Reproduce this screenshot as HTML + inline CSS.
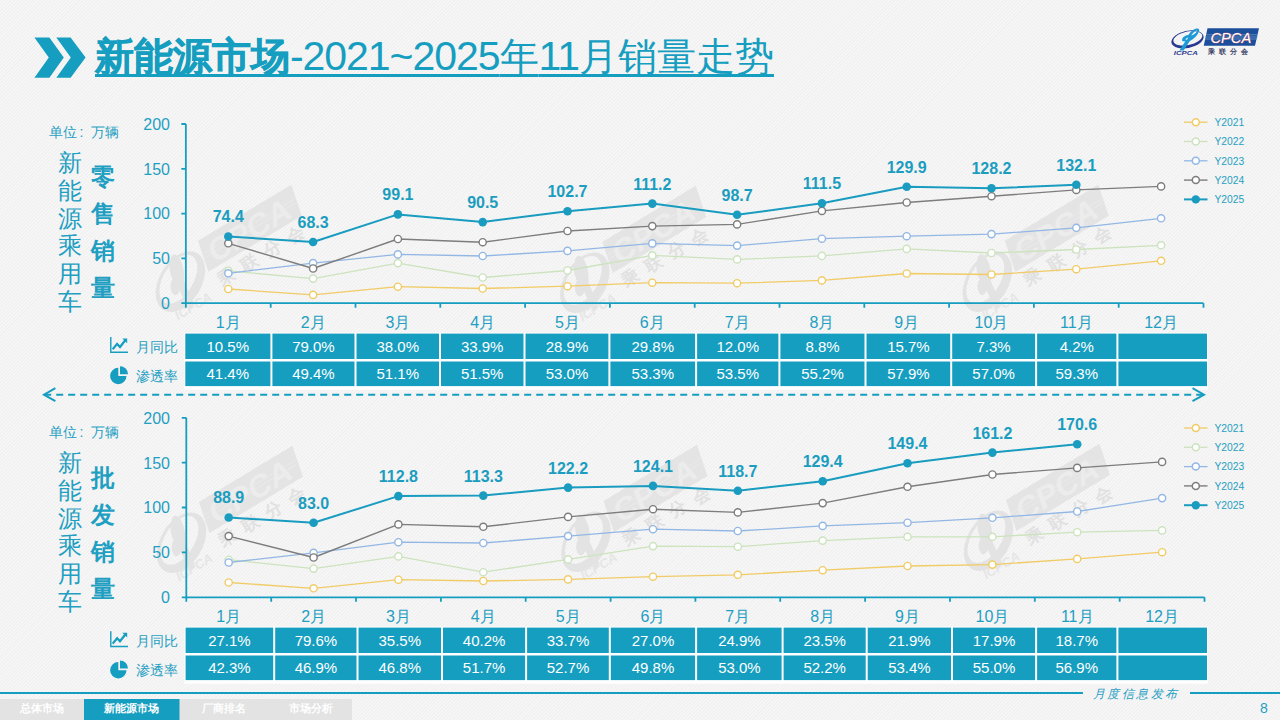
<!DOCTYPE html><html><head><meta charset="utf-8"><style>
html,body{margin:0;padding:0}body{width:1280px;height:720px;overflow:hidden;position:relative;background:#f2f2f2;font-family:"Liberation Sans",sans-serif}
svg{position:absolute;left:0;top:0}
.yl{font-size:16px;fill:#1f9fc2}.xl{font-size:16px;fill:#1f9fc2}.dl{font-size:16px;font-weight:bold;fill:#1b9dc0}.lg{font-size:10.3px;fill:#1f9fc2}.tc{font-size:15px;fill:#fff}
.lab{position:absolute;color:#1f9fc2;white-space:nowrap}
</style></head><body>
<svg width="1280" height="720" viewBox="0 0 1280 720">
<defs><pattern id="st" width="2.55" height="10" patternUnits="userSpaceOnUse" patternTransform="rotate(45)"><rect width="2.55" height="10" fill="#f8f8f8"/><rect width="1.1" height="10" fill="#eeeeee"/></pattern></defs>
<rect width="1280" height="720" fill="url(#st)"/>
<g transform="translate(1160 20)" opacity="1"><path fill-rule="evenodd" fill="#2a3990" d="M12 19.4a15.5 8.2 -12 1 0 31 0a15.5 8.2 -12 1 0 -31 0Z M14.2 18.3a13.6 6.2 -12 1 0 27.2 0a13.6 6.2 -12 1 0 -27.2 0Z"/><path fill="#1e9ad6" d="M36.5 8.6c2.2 -0.8 3.3 0.8 2.4 3.2c-1.4 3.6 -5 7.2 -9 9.2l-6.3 9.5h-4.2l6 -9.2c-2.4 0.4 -4 -0.4 -3.2 -2.4c0.9 -2.2 3.6 -3.6 6.2 -3.8c2.2 -3.6 5 -5.8 8.1 -6.5Zm0.2 1.8c-2 0.6 -4 2.6 -5.6 5.2c2.4 -0.8 4.6 -2.4 5.8 -4.2c0.3 -0.5 0.2 -1 -0.2 -1Zm-8.6 7.2c-1.2 0.3 -2.2 1 -2.4 1.6c-0.2 0.6 0.6 0.7 1.5 0.3Z"/><text x="13.8" y="34.6" font-size="6" font-weight="bold" font-style="italic" fill="#2a3990" textLength="24" lengthAdjust="spacingAndGlyphs">ICPCA</text><path fill="#1b4f9c" d="M47.5 8.25H99L95 25.75H43.75Z"/><path stroke="#6fa0d0" stroke-width="0.7" d="M46 14.75H98M45.4 17H97.5M45 19H97"/><text x="50.5" y="23" font-size="15" font-style="italic" fill="#ffffff" stroke="#e05050" stroke-width="0.5" paint-order="stroke" textLength="40.7" lengthAdjust="spacingAndGlyphs">CPCA</text><text x="47.5" y="34.4" font-size="7.2" font-weight="bold" fill="#3b3f66" letter-spacing="4.3">乘联分会</text></g>
<g transform="translate(197.9 240.8) rotate(-31)"><path fill="#e4e4e4" d="M0 0H109L102 32H-7Z"/><path stroke="#e9e9e9" stroke-width="1" d="M-3 14H104M-4 18H103"/><text x="3" y="28" font-size="31" font-weight="bold" font-style="italic" fill="#ececec" textLength="92" lengthAdjust="spacingAndGlyphs">CPCA</text><text x="-3" y="51" font-size="17" font-weight="bold" fill="#e1e1e1" letter-spacing="10">乘联分会</text><g transform="translate(-36 26) rotate(-28)"><path fill-rule="evenodd" fill="#e3e3e3" d="M-33 0a33 21 0 1 0 66 0a33 21 0 1 0 -66 0Z M-26 -3a27 15 0 1 0 54 0a27 15 0 1 0 -54 0Z"/><path fill="#e3e3e3" d="M14 -20c5 -2 8 1 6 6c-3 7 -10 13 -18 17l-14 20h-9l13 -19c-5 1 -8 -1 -6 -5c2 -4 7 -7 12 -7c4 -6 10 -11 16 -12Z"/></g><text x="-58" y="58" font-size="13" font-weight="bold" font-style="italic" fill="#e6e6e6">ICPCA</text></g>
<g transform="translate(602.3 242) rotate(-31)"><path fill="#e4e4e4" d="M0 0H109L102 32H-7Z"/><path stroke="#e9e9e9" stroke-width="1" d="M-3 14H104M-4 18H103"/><text x="3" y="28" font-size="31" font-weight="bold" font-style="italic" fill="#ececec" textLength="92" lengthAdjust="spacingAndGlyphs">CPCA</text><text x="-3" y="51" font-size="17" font-weight="bold" fill="#e1e1e1" letter-spacing="10">乘联分会</text><g transform="translate(-36 26) rotate(-28)"><path fill-rule="evenodd" fill="#e3e3e3" d="M-33 0a33 21 0 1 0 66 0a33 21 0 1 0 -66 0Z M-26 -3a27 15 0 1 0 54 0a27 15 0 1 0 -54 0Z"/><path fill="#e3e3e3" d="M14 -20c5 -2 8 1 6 6c-3 7 -10 13 -18 17l-14 20h-9l13 -19c-5 1 -8 -1 -6 -5c2 -4 7 -7 12 -7c4 -6 10 -11 16 -12Z"/></g><text x="-58" y="58" font-size="13" font-weight="bold" font-style="italic" fill="#e6e6e6">ICPCA</text></g>
<g transform="translate(1004.8 240.8) rotate(-31)"><path fill="#e4e4e4" d="M0 0H109L102 32H-7Z"/><path stroke="#e9e9e9" stroke-width="1" d="M-3 14H104M-4 18H103"/><text x="3" y="28" font-size="31" font-weight="bold" font-style="italic" fill="#ececec" textLength="92" lengthAdjust="spacingAndGlyphs">CPCA</text><text x="-3" y="51" font-size="17" font-weight="bold" fill="#e1e1e1" letter-spacing="10">乘联分会</text><g transform="translate(-36 26) rotate(-28)"><path fill-rule="evenodd" fill="#e3e3e3" d="M-33 0a33 21 0 1 0 66 0a33 21 0 1 0 -66 0Z M-26 -3a27 15 0 1 0 54 0a27 15 0 1 0 -54 0Z"/><path fill="#e3e3e3" d="M14 -20c5 -2 8 1 6 6c-3 7 -10 13 -18 17l-14 20h-9l13 -19c-5 1 -8 -1 -6 -5c2 -4 7 -7 12 -7c4 -6 10 -11 16 -12Z"/></g><text x="-58" y="58" font-size="13" font-weight="bold" font-style="italic" fill="#e6e6e6">ICPCA</text></g>
<g transform="translate(199 501.9) rotate(-31)"><path fill="#e4e4e4" d="M0 0H109L102 32H-7Z"/><path stroke="#e9e9e9" stroke-width="1" d="M-3 14H104M-4 18H103"/><text x="3" y="28" font-size="31" font-weight="bold" font-style="italic" fill="#ececec" textLength="92" lengthAdjust="spacingAndGlyphs">CPCA</text><text x="-3" y="51" font-size="17" font-weight="bold" fill="#e1e1e1" letter-spacing="10">乘联分会</text><g transform="translate(-36 26) rotate(-28)"><path fill-rule="evenodd" fill="#e3e3e3" d="M-33 0a33 21 0 1 0 66 0a33 21 0 1 0 -66 0Z M-26 -3a27 15 0 1 0 54 0a27 15 0 1 0 -54 0Z"/><path fill="#e3e3e3" d="M14 -20c5 -2 8 1 6 6c-3 7 -10 13 -18 17l-14 20h-9l13 -19c-5 1 -8 -1 -6 -5c2 -4 7 -7 12 -7c4 -6 10 -11 16 -12Z"/></g><text x="-58" y="58" font-size="13" font-weight="bold" font-style="italic" fill="#e6e6e6">ICPCA</text></g>
<g transform="translate(603.5 501) rotate(-31)"><path fill="#e4e4e4" d="M0 0H109L102 32H-7Z"/><path stroke="#e9e9e9" stroke-width="1" d="M-3 14H104M-4 18H103"/><text x="3" y="28" font-size="31" font-weight="bold" font-style="italic" fill="#ececec" textLength="92" lengthAdjust="spacingAndGlyphs">CPCA</text><text x="-3" y="51" font-size="17" font-weight="bold" fill="#e1e1e1" letter-spacing="10">乘联分会</text><g transform="translate(-36 26) rotate(-28)"><path fill-rule="evenodd" fill="#e3e3e3" d="M-33 0a33 21 0 1 0 66 0a33 21 0 1 0 -66 0Z M-26 -3a27 15 0 1 0 54 0a27 15 0 1 0 -54 0Z"/><path fill="#e3e3e3" d="M14 -20c5 -2 8 1 6 6c-3 7 -10 13 -18 17l-14 20h-9l13 -19c-5 1 -8 -1 -6 -5c2 -4 7 -7 12 -7c4 -6 10 -11 16 -12Z"/></g><text x="-58" y="58" font-size="13" font-weight="bold" font-style="italic" fill="#e6e6e6">ICPCA</text></g>
<g transform="translate(1006 500) rotate(-31)"><path fill="#e4e4e4" d="M0 0H109L102 32H-7Z"/><path stroke="#e9e9e9" stroke-width="1" d="M-3 14H104M-4 18H103"/><text x="3" y="28" font-size="31" font-weight="bold" font-style="italic" fill="#ececec" textLength="92" lengthAdjust="spacingAndGlyphs">CPCA</text><text x="-3" y="51" font-size="17" font-weight="bold" fill="#e1e1e1" letter-spacing="10">乘联分会</text><g transform="translate(-36 26) rotate(-28)"><path fill-rule="evenodd" fill="#e3e3e3" d="M-33 0a33 21 0 1 0 66 0a33 21 0 1 0 -66 0Z M-26 -3a27 15 0 1 0 54 0a27 15 0 1 0 -54 0Z"/><path fill="#e3e3e3" d="M14 -20c5 -2 8 1 6 6c-3 7 -10 13 -18 17l-14 20h-9l13 -19c-5 1 -8 -1 -6 -5c2 -4 7 -7 12 -7c4 -6 10 -11 16 -12Z"/></g><text x="-58" y="58" font-size="13" font-weight="bold" font-style="italic" fill="#e6e6e6">ICPCA</text></g>
<path d="M34.4 37.5H49.4L63.8 57.6L49.4 77.8H34.4L48.8 57.6Z" fill="#169ec0"/>
<path d="M56.3 37.5H70.6L85.6 57.6L70.6 77.8H56.3L70.8 57.6Z" fill="#169ec0"/>
<path d="M185.85 124.0V307.7M181.35 303.2H1203.4999999999998" stroke="#169ec0" stroke-width="1.8" fill="none"/>
<path d="M181.35 124.0H185.85M181.35 168.8H185.85M181.35 213.6H185.85M181.35 258.4H185.85M270.7 303.2V307.7M355.5 303.2V307.7M440.3 303.2V307.7M525.1 303.2V307.7M609.9 303.2V307.7M694.7 303.2V307.7M779.5 303.2V307.7M864.3 303.2V307.7M949.1 303.2V307.7M1033.9 303.2V307.7M1118.7 303.2V307.7M1203.5 303.2V307.7" stroke="#169ec0" stroke-width="1.8" fill="none"/>
<text x="170" y="129.8" text-anchor="end" class="yl">200</text>
<text x="170" y="174.6" text-anchor="end" class="yl">150</text>
<text x="170" y="219.4" text-anchor="end" class="yl">100</text>
<text x="170" y="264.2" text-anchor="end" class="yl">50</text>
<text x="170" y="309.0" text-anchor="end" class="yl">0</text>
<text x="228.3" y="328.0" text-anchor="middle" class="xl">1月</text>
<text x="313.1" y="328.0" text-anchor="middle" class="xl">2月</text>
<text x="397.9" y="328.0" text-anchor="middle" class="xl">3月</text>
<text x="482.7" y="328.0" text-anchor="middle" class="xl">4月</text>
<text x="567.5" y="328.0" text-anchor="middle" class="xl">5月</text>
<text x="652.3" y="328.0" text-anchor="middle" class="xl">6月</text>
<text x="737.1" y="328.0" text-anchor="middle" class="xl">7月</text>
<text x="821.9" y="328.0" text-anchor="middle" class="xl">8月</text>
<text x="906.7" y="328.0" text-anchor="middle" class="xl">9月</text>
<text x="991.5" y="328.0" text-anchor="middle" class="xl">10月</text>
<text x="1076.3" y="328.0" text-anchor="middle" class="xl">11月</text>
<text x="1161.1" y="328.0" text-anchor="middle" class="xl">12月</text>
<path d="M228.3 289.0 L313.1 294.9 L397.9 286.7 L482.7 288.5 L567.5 286.2 L652.3 282.7 L737.1 283.2 L821.9 280.4 L906.7 273.5 L991.5 274.5 L1076.3 269.2 L1161.1 260.8" stroke="#f0cb66" stroke-width="1.3" fill="none" stroke-linejoin="round"/>
<circle cx="228.3" cy="289.0" r="3.6" fill="#fff" stroke="#f0cb66" stroke-width="1.4"/>
<circle cx="313.1" cy="294.9" r="3.6" fill="#fff" stroke="#f0cb66" stroke-width="1.4"/>
<circle cx="397.9" cy="286.7" r="3.6" fill="#fff" stroke="#f0cb66" stroke-width="1.4"/>
<circle cx="482.7" cy="288.5" r="3.6" fill="#fff" stroke="#f0cb66" stroke-width="1.4"/>
<circle cx="567.5" cy="286.2" r="3.6" fill="#fff" stroke="#f0cb66" stroke-width="1.4"/>
<circle cx="652.3" cy="282.7" r="3.6" fill="#fff" stroke="#f0cb66" stroke-width="1.4"/>
<circle cx="737.1" cy="283.2" r="3.6" fill="#fff" stroke="#f0cb66" stroke-width="1.4"/>
<circle cx="821.9" cy="280.4" r="3.6" fill="#fff" stroke="#f0cb66" stroke-width="1.4"/>
<circle cx="906.7" cy="273.5" r="3.6" fill="#fff" stroke="#f0cb66" stroke-width="1.4"/>
<circle cx="991.5" cy="274.5" r="3.6" fill="#fff" stroke="#f0cb66" stroke-width="1.4"/>
<circle cx="1076.3" cy="269.2" r="3.6" fill="#fff" stroke="#f0cb66" stroke-width="1.4"/>
<circle cx="1161.1" cy="260.8" r="3.6" fill="#fff" stroke="#f0cb66" stroke-width="1.4"/>
<path d="M228.3 270.9 L313.1 278.6 L397.9 263.1 L482.7 277.5 L567.5 270.5 L652.3 255.4 L737.1 259.4 L821.9 255.9 L906.7 248.9 L991.5 253.0 L1076.3 249.5 L1161.1 245.3" stroke="#cce3be" stroke-width="1.3" fill="none" stroke-linejoin="round"/>
<circle cx="228.3" cy="270.9" r="3.6" fill="#fff" stroke="#cce3be" stroke-width="1.4"/>
<circle cx="313.1" cy="278.6" r="3.6" fill="#fff" stroke="#cce3be" stroke-width="1.4"/>
<circle cx="397.9" cy="263.1" r="3.6" fill="#fff" stroke="#cce3be" stroke-width="1.4"/>
<circle cx="482.7" cy="277.5" r="3.6" fill="#fff" stroke="#cce3be" stroke-width="1.4"/>
<circle cx="567.5" cy="270.5" r="3.6" fill="#fff" stroke="#cce3be" stroke-width="1.4"/>
<circle cx="652.3" cy="255.4" r="3.6" fill="#fff" stroke="#cce3be" stroke-width="1.4"/>
<circle cx="737.1" cy="259.4" r="3.6" fill="#fff" stroke="#cce3be" stroke-width="1.4"/>
<circle cx="821.9" cy="255.9" r="3.6" fill="#fff" stroke="#cce3be" stroke-width="1.4"/>
<circle cx="906.7" cy="248.9" r="3.6" fill="#fff" stroke="#cce3be" stroke-width="1.4"/>
<circle cx="991.5" cy="253.0" r="3.6" fill="#fff" stroke="#cce3be" stroke-width="1.4"/>
<circle cx="1076.3" cy="249.5" r="3.6" fill="#fff" stroke="#cce3be" stroke-width="1.4"/>
<circle cx="1161.1" cy="245.3" r="3.6" fill="#fff" stroke="#cce3be" stroke-width="1.4"/>
<path d="M228.3 273.3 L313.1 263.1 L397.9 254.4 L482.7 256.0 L567.5 250.9 L652.3 243.4 L737.1 245.6 L821.9 238.7 L906.7 236.2 L991.5 234.1 L1076.3 227.8 L1161.1 218.3" stroke="#93b7e4" stroke-width="1.3" fill="none" stroke-linejoin="round"/>
<circle cx="228.3" cy="273.3" r="3.6" fill="#fff" stroke="#93b7e4" stroke-width="1.4"/>
<circle cx="313.1" cy="263.1" r="3.6" fill="#fff" stroke="#93b7e4" stroke-width="1.4"/>
<circle cx="397.9" cy="254.4" r="3.6" fill="#fff" stroke="#93b7e4" stroke-width="1.4"/>
<circle cx="482.7" cy="256.0" r="3.6" fill="#fff" stroke="#93b7e4" stroke-width="1.4"/>
<circle cx="567.5" cy="250.9" r="3.6" fill="#fff" stroke="#93b7e4" stroke-width="1.4"/>
<circle cx="652.3" cy="243.4" r="3.6" fill="#fff" stroke="#93b7e4" stroke-width="1.4"/>
<circle cx="737.1" cy="245.6" r="3.6" fill="#fff" stroke="#93b7e4" stroke-width="1.4"/>
<circle cx="821.9" cy="238.7" r="3.6" fill="#fff" stroke="#93b7e4" stroke-width="1.4"/>
<circle cx="906.7" cy="236.2" r="3.6" fill="#fff" stroke="#93b7e4" stroke-width="1.4"/>
<circle cx="991.5" cy="234.1" r="3.6" fill="#fff" stroke="#93b7e4" stroke-width="1.4"/>
<circle cx="1076.3" cy="227.8" r="3.6" fill="#fff" stroke="#93b7e4" stroke-width="1.4"/>
<circle cx="1161.1" cy="218.3" r="3.6" fill="#fff" stroke="#93b7e4" stroke-width="1.4"/>
<path d="M228.3 243.3 L313.1 268.5 L397.9 239.0 L482.7 242.2 L567.5 231.0 L652.3 226.1 L737.1 224.4 L821.9 210.9 L906.7 202.5 L991.5 196.2 L1076.3 189.9 L1161.1 186.4" stroke="#7d7d7d" stroke-width="1.4" fill="none" stroke-linejoin="round"/>
<circle cx="228.3" cy="243.3" r="3.6" fill="#fff" stroke="#7d7d7d" stroke-width="1.4"/>
<circle cx="313.1" cy="268.5" r="3.6" fill="#fff" stroke="#7d7d7d" stroke-width="1.4"/>
<circle cx="397.9" cy="239.0" r="3.6" fill="#fff" stroke="#7d7d7d" stroke-width="1.4"/>
<circle cx="482.7" cy="242.2" r="3.6" fill="#fff" stroke="#7d7d7d" stroke-width="1.4"/>
<circle cx="567.5" cy="231.0" r="3.6" fill="#fff" stroke="#7d7d7d" stroke-width="1.4"/>
<circle cx="652.3" cy="226.1" r="3.6" fill="#fff" stroke="#7d7d7d" stroke-width="1.4"/>
<circle cx="737.1" cy="224.4" r="3.6" fill="#fff" stroke="#7d7d7d" stroke-width="1.4"/>
<circle cx="821.9" cy="210.9" r="3.6" fill="#fff" stroke="#7d7d7d" stroke-width="1.4"/>
<circle cx="906.7" cy="202.5" r="3.6" fill="#fff" stroke="#7d7d7d" stroke-width="1.4"/>
<circle cx="991.5" cy="196.2" r="3.6" fill="#fff" stroke="#7d7d7d" stroke-width="1.4"/>
<circle cx="1076.3" cy="189.9" r="3.6" fill="#fff" stroke="#7d7d7d" stroke-width="1.4"/>
<circle cx="1161.1" cy="186.4" r="3.6" fill="#fff" stroke="#7d7d7d" stroke-width="1.4"/>
<path d="M228.3 236.5 L313.1 242.0 L397.9 214.4 L482.7 222.1 L567.5 211.2 L652.3 203.6 L737.1 214.8 L821.9 203.3 L906.7 186.8 L991.5 188.3 L1076.3 184.8" stroke="#199cc0" stroke-width="2.0" fill="none" stroke-linejoin="round"/>
<circle cx="228.3" cy="236.5" r="4.3" fill="#199cc0"/>
<circle cx="313.1" cy="242.0" r="4.3" fill="#199cc0"/>
<circle cx="397.9" cy="214.4" r="4.3" fill="#199cc0"/>
<circle cx="482.7" cy="222.1" r="4.3" fill="#199cc0"/>
<circle cx="567.5" cy="211.2" r="4.3" fill="#199cc0"/>
<circle cx="652.3" cy="203.6" r="4.3" fill="#199cc0"/>
<circle cx="737.1" cy="214.8" r="4.3" fill="#199cc0"/>
<circle cx="821.9" cy="203.3" r="4.3" fill="#199cc0"/>
<circle cx="906.7" cy="186.8" r="4.3" fill="#199cc0"/>
<circle cx="991.5" cy="188.3" r="4.3" fill="#199cc0"/>
<circle cx="1076.3" cy="184.8" r="4.3" fill="#199cc0"/>
<text x="228.3" y="222.4" text-anchor="middle" class="dl">74.4</text>
<text x="313.1" y="227.9" text-anchor="middle" class="dl">68.3</text>
<text x="397.9" y="200.3" text-anchor="middle" class="dl">99.1</text>
<text x="482.7" y="208.0" text-anchor="middle" class="dl">90.5</text>
<text x="567.5" y="197.1" text-anchor="middle" class="dl">102.7</text>
<text x="652.3" y="189.5" text-anchor="middle" class="dl">111.2</text>
<text x="737.1" y="200.7" text-anchor="middle" class="dl">98.7</text>
<text x="821.9" y="189.2" text-anchor="middle" class="dl">111.5</text>
<text x="906.7" y="172.7" text-anchor="middle" class="dl">129.9</text>
<text x="991.5" y="174.2" text-anchor="middle" class="dl">128.2</text>
<text x="1076.3" y="170.7" text-anchor="middle" class="dl">132.1</text>
<path d="M1184 122.2H1207.5" stroke="#f0cb66" stroke-width="1.3"/>
<circle cx="1195.8" cy="122.2" r="3.5" fill="#fff" stroke="#f0cb66" stroke-width="1.5"/>
<text x="1214.5" y="125.9" class="lg">Y2021</text>
<path d="M1184 141.5H1207.5" stroke="#cce3be" stroke-width="1.3"/>
<circle cx="1195.8" cy="141.5" r="3.5" fill="#fff" stroke="#cce3be" stroke-width="1.5"/>
<text x="1214.5" y="145.2" class="lg">Y2022</text>
<path d="M1184 160.8H1207.5" stroke="#93b7e4" stroke-width="1.3"/>
<circle cx="1195.8" cy="160.8" r="3.5" fill="#fff" stroke="#93b7e4" stroke-width="1.5"/>
<text x="1214.5" y="164.5" class="lg">Y2023</text>
<path d="M1184 180.1H1207.5" stroke="#7d7d7d" stroke-width="1.4"/>
<circle cx="1195.8" cy="180.1" r="3.5" fill="#fff" stroke="#7d7d7d" stroke-width="1.5"/>
<text x="1214.5" y="183.8" class="lg">Y2024</text>
<path d="M1184 199.4H1207.5" stroke="#199cc0" stroke-width="2.0"/>
<circle cx="1195.8" cy="199.4" r="4.2" fill="#199cc0"/>
<text x="1214.5" y="203.1" class="lg">Y2025</text>
<rect x="184.20000000000002" y="332.70000000000005" width="1023.7" height="57" fill="#fff"/>
<rect x="185.3" y="333.6" width="85.1" height="25.4" fill="#169ec0"/>
<text x="227.8" y="351.7" text-anchor="middle" class="tc">10.5%</text>
<rect x="185.3" y="361.5" width="85.1" height="24.6" fill="#169ec0"/>
<text x="227.8" y="379.2" text-anchor="middle" class="tc">41.4%</text>
<rect x="272.4" y="333.6" width="82.1" height="25.4" fill="#169ec0"/>
<text x="313.4" y="351.7" text-anchor="middle" class="tc">79.0%</text>
<rect x="272.4" y="361.5" width="82.1" height="24.6" fill="#169ec0"/>
<text x="313.4" y="379.2" text-anchor="middle" class="tc">49.4%</text>
<rect x="356.5" y="333.6" width="82.5" height="25.4" fill="#169ec0"/>
<text x="397.8" y="351.7" text-anchor="middle" class="tc">38.0%</text>
<rect x="356.5" y="361.5" width="82.5" height="24.6" fill="#169ec0"/>
<text x="397.8" y="379.2" text-anchor="middle" class="tc">51.1%</text>
<rect x="441.0" y="333.6" width="82.5" height="25.4" fill="#169ec0"/>
<text x="482.2" y="351.7" text-anchor="middle" class="tc">33.9%</text>
<rect x="441.0" y="361.5" width="82.5" height="24.6" fill="#169ec0"/>
<text x="482.2" y="379.2" text-anchor="middle" class="tc">51.5%</text>
<rect x="525.5" y="333.6" width="82.9" height="25.4" fill="#169ec0"/>
<text x="567.0" y="351.7" text-anchor="middle" class="tc">28.9%</text>
<rect x="525.5" y="361.5" width="82.9" height="24.6" fill="#169ec0"/>
<text x="567.0" y="379.2" text-anchor="middle" class="tc">53.0%</text>
<rect x="610.4" y="333.6" width="84.7" height="25.4" fill="#169ec0"/>
<text x="652.8" y="351.7" text-anchor="middle" class="tc">29.8%</text>
<rect x="610.4" y="361.5" width="84.7" height="24.6" fill="#169ec0"/>
<text x="652.8" y="379.2" text-anchor="middle" class="tc">53.3%</text>
<rect x="697.1" y="333.6" width="81.3" height="25.4" fill="#169ec0"/>
<text x="737.8" y="351.7" text-anchor="middle" class="tc">12.0%</text>
<rect x="697.1" y="361.5" width="81.3" height="24.6" fill="#169ec0"/>
<text x="737.8" y="379.2" text-anchor="middle" class="tc">53.5%</text>
<rect x="780.4" y="333.6" width="84.1" height="25.4" fill="#169ec0"/>
<text x="822.5" y="351.7" text-anchor="middle" class="tc">8.8%</text>
<rect x="780.4" y="361.5" width="84.1" height="24.6" fill="#169ec0"/>
<text x="822.5" y="379.2" text-anchor="middle" class="tc">55.2%</text>
<rect x="866.5" y="333.6" width="83.7" height="25.4" fill="#169ec0"/>
<text x="908.4" y="351.7" text-anchor="middle" class="tc">15.7%</text>
<rect x="866.5" y="361.5" width="83.7" height="24.6" fill="#169ec0"/>
<text x="908.4" y="379.2" text-anchor="middle" class="tc">57.9%</text>
<rect x="952.2" y="333.6" width="82.9" height="25.4" fill="#169ec0"/>
<text x="993.6" y="351.7" text-anchor="middle" class="tc">7.3%</text>
<rect x="952.2" y="361.5" width="82.9" height="24.6" fill="#169ec0"/>
<text x="993.6" y="379.2" text-anchor="middle" class="tc">57.0%</text>
<rect x="1037.1" y="333.6" width="79.3" height="25.4" fill="#169ec0"/>
<text x="1076.8" y="351.7" text-anchor="middle" class="tc">4.2%</text>
<rect x="1037.1" y="361.5" width="79.3" height="24.6" fill="#169ec0"/>
<text x="1076.8" y="379.2" text-anchor="middle" class="tc">59.3%</text>
<rect x="1118.4" y="333.6" width="88.6" height="25.4" fill="#169ec0"/>
<rect x="1118.4" y="361.5" width="88.6" height="24.6" fill="#169ec0"/>
<path d="M186.3 417.8V601.8M181.8 597.3H1204.5" stroke="#169ec0" stroke-width="1.8" fill="none"/>
<path d="M181.8 417.8H186.3M181.8 462.7H186.3M181.8 507.5H186.3M181.8 552.4H186.3M271.2 597.3V601.8M356.0 597.3V601.8M440.9 597.3V601.8M525.7 597.3V601.8M610.6 597.3V601.8M695.4 597.3V601.8M780.2 597.3V601.8M865.1 597.3V601.8M950.0 597.3V601.8M1034.8 597.3V601.8M1119.7 597.3V601.8M1204.5 597.3V601.8" stroke="#169ec0" stroke-width="1.8" fill="none"/>
<text x="170" y="423.6" text-anchor="end" class="yl">200</text>
<text x="170" y="468.5" text-anchor="end" class="yl">150</text>
<text x="170" y="513.3" text-anchor="end" class="yl">100</text>
<text x="170" y="558.2" text-anchor="end" class="yl">50</text>
<text x="170" y="603.1" text-anchor="end" class="yl">0</text>
<text x="228.7" y="622.1" text-anchor="middle" class="xl">1月</text>
<text x="313.6" y="622.1" text-anchor="middle" class="xl">2月</text>
<text x="398.4" y="622.1" text-anchor="middle" class="xl">3月</text>
<text x="483.3" y="622.1" text-anchor="middle" class="xl">4月</text>
<text x="568.1" y="622.1" text-anchor="middle" class="xl">5月</text>
<text x="653.0" y="622.1" text-anchor="middle" class="xl">6月</text>
<text x="737.8" y="622.1" text-anchor="middle" class="xl">7月</text>
<text x="822.7" y="622.1" text-anchor="middle" class="xl">8月</text>
<text x="907.5" y="622.1" text-anchor="middle" class="xl">9月</text>
<text x="992.4" y="622.1" text-anchor="middle" class="xl">10月</text>
<text x="1077.2" y="622.1" text-anchor="middle" class="xl">11月</text>
<text x="1162.1" y="622.1" text-anchor="middle" class="xl">12月</text>
<path d="M228.7 582.5 L313.6 588.3 L398.4 579.7 L483.3 581.0 L568.1 579.4 L653.0 576.7 L737.8 574.8 L822.7 570.2 L907.5 566.0 L992.4 564.6 L1077.2 558.9 L1162.1 552.2" stroke="#f0cb66" stroke-width="1.3" fill="none" stroke-linejoin="round"/>
<circle cx="228.7" cy="582.5" r="3.6" fill="#fff" stroke="#f0cb66" stroke-width="1.4"/>
<circle cx="313.6" cy="588.3" r="3.6" fill="#fff" stroke="#f0cb66" stroke-width="1.4"/>
<circle cx="398.4" cy="579.7" r="3.6" fill="#fff" stroke="#f0cb66" stroke-width="1.4"/>
<circle cx="483.3" cy="581.0" r="3.6" fill="#fff" stroke="#f0cb66" stroke-width="1.4"/>
<circle cx="568.1" cy="579.4" r="3.6" fill="#fff" stroke="#f0cb66" stroke-width="1.4"/>
<circle cx="653.0" cy="576.7" r="3.6" fill="#fff" stroke="#f0cb66" stroke-width="1.4"/>
<circle cx="737.8" cy="574.8" r="3.6" fill="#fff" stroke="#f0cb66" stroke-width="1.4"/>
<circle cx="822.7" cy="570.2" r="3.6" fill="#fff" stroke="#f0cb66" stroke-width="1.4"/>
<circle cx="907.5" cy="566.0" r="3.6" fill="#fff" stroke="#f0cb66" stroke-width="1.4"/>
<circle cx="992.4" cy="564.6" r="3.6" fill="#fff" stroke="#f0cb66" stroke-width="1.4"/>
<circle cx="1077.2" cy="558.9" r="3.6" fill="#fff" stroke="#f0cb66" stroke-width="1.4"/>
<circle cx="1162.1" cy="552.2" r="3.6" fill="#fff" stroke="#f0cb66" stroke-width="1.4"/>
<path d="M228.7 559.7 L313.6 568.6 L398.4 556.4 L483.3 572.2 L568.1 559.4 L653.0 546.1 L737.8 546.7 L822.7 540.6 L907.5 536.8 L992.4 536.8 L1077.2 532.2 L1162.1 530.4" stroke="#cce3be" stroke-width="1.3" fill="none" stroke-linejoin="round"/>
<circle cx="228.7" cy="559.7" r="3.6" fill="#fff" stroke="#cce3be" stroke-width="1.4"/>
<circle cx="313.6" cy="568.6" r="3.6" fill="#fff" stroke="#cce3be" stroke-width="1.4"/>
<circle cx="398.4" cy="556.4" r="3.6" fill="#fff" stroke="#cce3be" stroke-width="1.4"/>
<circle cx="483.3" cy="572.2" r="3.6" fill="#fff" stroke="#cce3be" stroke-width="1.4"/>
<circle cx="568.1" cy="559.4" r="3.6" fill="#fff" stroke="#cce3be" stroke-width="1.4"/>
<circle cx="653.0" cy="546.1" r="3.6" fill="#fff" stroke="#cce3be" stroke-width="1.4"/>
<circle cx="737.8" cy="546.7" r="3.6" fill="#fff" stroke="#cce3be" stroke-width="1.4"/>
<circle cx="822.7" cy="540.6" r="3.6" fill="#fff" stroke="#cce3be" stroke-width="1.4"/>
<circle cx="907.5" cy="536.8" r="3.6" fill="#fff" stroke="#cce3be" stroke-width="1.4"/>
<circle cx="992.4" cy="536.8" r="3.6" fill="#fff" stroke="#cce3be" stroke-width="1.4"/>
<circle cx="1077.2" cy="532.2" r="3.6" fill="#fff" stroke="#cce3be" stroke-width="1.4"/>
<circle cx="1162.1" cy="530.4" r="3.6" fill="#fff" stroke="#cce3be" stroke-width="1.4"/>
<path d="M228.7 562.5 L313.6 552.8 L398.4 542.2 L483.3 543.0 L568.1 536.1 L653.0 529.2 L737.8 531.0 L822.7 525.9 L907.5 522.7 L992.4 517.8 L1077.2 511.5 L1162.1 498.1" stroke="#93b7e4" stroke-width="1.3" fill="none" stroke-linejoin="round"/>
<circle cx="228.7" cy="562.5" r="3.6" fill="#fff" stroke="#93b7e4" stroke-width="1.4"/>
<circle cx="313.6" cy="552.8" r="3.6" fill="#fff" stroke="#93b7e4" stroke-width="1.4"/>
<circle cx="398.4" cy="542.2" r="3.6" fill="#fff" stroke="#93b7e4" stroke-width="1.4"/>
<circle cx="483.3" cy="543.0" r="3.6" fill="#fff" stroke="#93b7e4" stroke-width="1.4"/>
<circle cx="568.1" cy="536.1" r="3.6" fill="#fff" stroke="#93b7e4" stroke-width="1.4"/>
<circle cx="653.0" cy="529.2" r="3.6" fill="#fff" stroke="#93b7e4" stroke-width="1.4"/>
<circle cx="737.8" cy="531.0" r="3.6" fill="#fff" stroke="#93b7e4" stroke-width="1.4"/>
<circle cx="822.7" cy="525.9" r="3.6" fill="#fff" stroke="#93b7e4" stroke-width="1.4"/>
<circle cx="907.5" cy="522.7" r="3.6" fill="#fff" stroke="#93b7e4" stroke-width="1.4"/>
<circle cx="992.4" cy="517.8" r="3.6" fill="#fff" stroke="#93b7e4" stroke-width="1.4"/>
<circle cx="1077.2" cy="511.5" r="3.6" fill="#fff" stroke="#93b7e4" stroke-width="1.4"/>
<circle cx="1162.1" cy="498.1" r="3.6" fill="#fff" stroke="#93b7e4" stroke-width="1.4"/>
<path d="M228.7 536.1 L313.6 557.5 L398.4 524.4 L483.3 526.8 L568.1 516.9 L653.0 509.2 L737.8 512.4 L822.7 503.1 L907.5 486.8 L992.4 474.5 L1077.2 467.9 L1162.1 461.9" stroke="#7d7d7d" stroke-width="1.4" fill="none" stroke-linejoin="round"/>
<circle cx="228.7" cy="536.1" r="3.6" fill="#fff" stroke="#7d7d7d" stroke-width="1.4"/>
<circle cx="313.6" cy="557.5" r="3.6" fill="#fff" stroke="#7d7d7d" stroke-width="1.4"/>
<circle cx="398.4" cy="524.4" r="3.6" fill="#fff" stroke="#7d7d7d" stroke-width="1.4"/>
<circle cx="483.3" cy="526.8" r="3.6" fill="#fff" stroke="#7d7d7d" stroke-width="1.4"/>
<circle cx="568.1" cy="516.9" r="3.6" fill="#fff" stroke="#7d7d7d" stroke-width="1.4"/>
<circle cx="653.0" cy="509.2" r="3.6" fill="#fff" stroke="#7d7d7d" stroke-width="1.4"/>
<circle cx="737.8" cy="512.4" r="3.6" fill="#fff" stroke="#7d7d7d" stroke-width="1.4"/>
<circle cx="822.7" cy="503.1" r="3.6" fill="#fff" stroke="#7d7d7d" stroke-width="1.4"/>
<circle cx="907.5" cy="486.8" r="3.6" fill="#fff" stroke="#7d7d7d" stroke-width="1.4"/>
<circle cx="992.4" cy="474.5" r="3.6" fill="#fff" stroke="#7d7d7d" stroke-width="1.4"/>
<circle cx="1077.2" cy="467.9" r="3.6" fill="#fff" stroke="#7d7d7d" stroke-width="1.4"/>
<circle cx="1162.1" cy="461.9" r="3.6" fill="#fff" stroke="#7d7d7d" stroke-width="1.4"/>
<path d="M228.7 517.5 L313.6 522.8 L398.4 496.1 L483.3 495.6 L568.1 487.6 L653.0 485.9 L737.8 490.8 L822.7 481.2 L907.5 463.2 L992.4 452.6 L1077.2 444.2" stroke="#199cc0" stroke-width="2.0" fill="none" stroke-linejoin="round"/>
<circle cx="228.7" cy="517.5" r="4.3" fill="#199cc0"/>
<circle cx="313.6" cy="522.8" r="4.3" fill="#199cc0"/>
<circle cx="398.4" cy="496.1" r="4.3" fill="#199cc0"/>
<circle cx="483.3" cy="495.6" r="4.3" fill="#199cc0"/>
<circle cx="568.1" cy="487.6" r="4.3" fill="#199cc0"/>
<circle cx="653.0" cy="485.9" r="4.3" fill="#199cc0"/>
<circle cx="737.8" cy="490.8" r="4.3" fill="#199cc0"/>
<circle cx="822.7" cy="481.2" r="4.3" fill="#199cc0"/>
<circle cx="907.5" cy="463.2" r="4.3" fill="#199cc0"/>
<circle cx="992.4" cy="452.6" r="4.3" fill="#199cc0"/>
<circle cx="1077.2" cy="444.2" r="4.3" fill="#199cc0"/>
<text x="228.7" y="503.4" text-anchor="middle" class="dl">88.9</text>
<text x="313.6" y="508.7" text-anchor="middle" class="dl">83.0</text>
<text x="398.4" y="482.0" text-anchor="middle" class="dl">112.8</text>
<text x="483.3" y="481.5" text-anchor="middle" class="dl">113.3</text>
<text x="568.1" y="473.5" text-anchor="middle" class="dl">122.2</text>
<text x="653.0" y="471.8" text-anchor="middle" class="dl">124.1</text>
<text x="737.8" y="476.7" text-anchor="middle" class="dl">118.7</text>
<text x="822.7" y="467.1" text-anchor="middle" class="dl">129.4</text>
<text x="907.5" y="449.1" text-anchor="middle" class="dl">149.4</text>
<text x="992.4" y="438.5" text-anchor="middle" class="dl">161.2</text>
<text x="1077.2" y="430.1" text-anchor="middle" class="dl">170.6</text>
<path d="M1184 428.0H1207.5" stroke="#f0cb66" stroke-width="1.3"/>
<circle cx="1195.8" cy="428.0" r="3.5" fill="#fff" stroke="#f0cb66" stroke-width="1.5"/>
<text x="1214.5" y="431.7" class="lg">Y2021</text>
<path d="M1184 447.3H1207.5" stroke="#cce3be" stroke-width="1.3"/>
<circle cx="1195.8" cy="447.3" r="3.5" fill="#fff" stroke="#cce3be" stroke-width="1.5"/>
<text x="1214.5" y="451.0" class="lg">Y2022</text>
<path d="M1184 466.6H1207.5" stroke="#93b7e4" stroke-width="1.3"/>
<circle cx="1195.8" cy="466.6" r="3.5" fill="#fff" stroke="#93b7e4" stroke-width="1.5"/>
<text x="1214.5" y="470.3" class="lg">Y2023</text>
<path d="M1184 485.9H1207.5" stroke="#7d7d7d" stroke-width="1.4"/>
<circle cx="1195.8" cy="485.9" r="3.5" fill="#fff" stroke="#7d7d7d" stroke-width="1.5"/>
<text x="1214.5" y="489.6" class="lg">Y2024</text>
<path d="M1184 505.2H1207.5" stroke="#199cc0" stroke-width="2.0"/>
<circle cx="1195.8" cy="505.2" r="4.2" fill="#199cc0"/>
<text x="1214.5" y="508.9" class="lg">Y2025</text>
<rect x="184.5" y="626.7" width="1023.4" height="57" fill="#fff"/>
<rect x="185.6" y="627.6" width="87.6" height="25.4" fill="#169ec0"/>
<text x="229.4" y="645.7" text-anchor="middle" class="tc">27.1%</text>
<rect x="185.6" y="655.5" width="87.6" height="24.6" fill="#169ec0"/>
<text x="229.4" y="673.2" text-anchor="middle" class="tc">42.3%</text>
<rect x="275.2" y="627.6" width="81.3" height="25.4" fill="#169ec0"/>
<text x="315.9" y="645.7" text-anchor="middle" class="tc">79.6%</text>
<rect x="275.2" y="655.5" width="81.3" height="24.6" fill="#169ec0"/>
<text x="315.9" y="673.2" text-anchor="middle" class="tc">46.9%</text>
<rect x="358.5" y="627.6" width="82.5" height="25.4" fill="#169ec0"/>
<text x="399.8" y="645.7" text-anchor="middle" class="tc">35.5%</text>
<rect x="358.5" y="655.5" width="82.5" height="24.6" fill="#169ec0"/>
<text x="399.8" y="673.2" text-anchor="middle" class="tc">46.8%</text>
<rect x="443.0" y="627.6" width="82.1" height="25.4" fill="#169ec0"/>
<text x="484.1" y="645.7" text-anchor="middle" class="tc">40.2%</text>
<rect x="443.0" y="655.5" width="82.1" height="24.6" fill="#169ec0"/>
<text x="484.1" y="673.2" text-anchor="middle" class="tc">51.7%</text>
<rect x="527.1" y="627.6" width="81.7" height="25.4" fill="#169ec0"/>
<text x="568.0" y="645.7" text-anchor="middle" class="tc">33.7%</text>
<rect x="527.1" y="655.5" width="81.7" height="24.6" fill="#169ec0"/>
<text x="568.0" y="673.2" text-anchor="middle" class="tc">52.7%</text>
<rect x="610.8" y="627.6" width="84.3" height="25.4" fill="#169ec0"/>
<text x="653.0" y="645.7" text-anchor="middle" class="tc">27.0%</text>
<rect x="610.8" y="655.5" width="84.3" height="24.6" fill="#169ec0"/>
<text x="653.0" y="673.2" text-anchor="middle" class="tc">49.8%</text>
<rect x="697.1" y="627.6" width="84.5" height="25.4" fill="#169ec0"/>
<text x="739.4" y="645.7" text-anchor="middle" class="tc">24.9%</text>
<rect x="697.1" y="655.5" width="84.5" height="24.6" fill="#169ec0"/>
<text x="739.4" y="673.2" text-anchor="middle" class="tc">53.0%</text>
<rect x="783.6" y="627.6" width="82.1" height="25.4" fill="#169ec0"/>
<text x="824.7" y="645.7" text-anchor="middle" class="tc">23.5%</text>
<rect x="783.6" y="655.5" width="82.1" height="24.6" fill="#169ec0"/>
<text x="824.7" y="673.2" text-anchor="middle" class="tc">52.2%</text>
<rect x="867.7" y="627.6" width="83.3" height="25.4" fill="#169ec0"/>
<text x="909.4" y="645.7" text-anchor="middle" class="tc">21.9%</text>
<rect x="867.7" y="655.5" width="83.3" height="24.6" fill="#169ec0"/>
<text x="909.4" y="673.2" text-anchor="middle" class="tc">53.4%</text>
<rect x="953.0" y="627.6" width="82.1" height="25.4" fill="#169ec0"/>
<text x="994.0" y="645.7" text-anchor="middle" class="tc">17.9%</text>
<rect x="953.0" y="655.5" width="82.1" height="24.6" fill="#169ec0"/>
<text x="994.0" y="673.2" text-anchor="middle" class="tc">55.0%</text>
<rect x="1037.1" y="627.6" width="79.3" height="25.4" fill="#169ec0"/>
<text x="1076.8" y="645.7" text-anchor="middle" class="tc">18.7%</text>
<rect x="1037.1" y="655.5" width="79.3" height="24.6" fill="#169ec0"/>
<text x="1076.8" y="673.2" text-anchor="middle" class="tc">56.9%</text>
<rect x="1118.4" y="627.6" width="88.6" height="25.4" fill="#169ec0"/>
<rect x="1118.4" y="655.5" width="88.6" height="24.6" fill="#169ec0"/>
<path d="M44.2 394.7H1203" stroke="#169ec0" stroke-width="2" stroke-dasharray="7 5"/>
<path d="M55.4 388.2L44 394.7L55.4 401.1M1192.5 388.2L1204 394.7L1192.5 401.1" stroke="#169ec0" stroke-width="2" fill="none"/>
<path d="M0 693H1083M1190 693H1280" stroke="#169ec0" stroke-width="2"/>
<rect x="0" y="699" width="352" height="21" fill="#e3e3e3"/>
<rect x="84" y="699" width="95.5" height="21" fill="#169ec0"/>
</svg>
<div class="lab" style="left:95px;top:31px;font-size:39px;line-height:50px;text-decoration:underline;text-decoration-thickness:3px;text-underline-offset:4px;color:#169ec0"><b style="-webkit-text-stroke:0.6px #169ec0">新能源市场</b><span style="font-size:41px;letter-spacing:-1.05px">-2021~2025</span>年<span style="font-size:41px;letter-spacing:-1.05px">11</span>月销量走势</div>
<div class="lab" style="left:49px;top:122px;font-size:14px;line-height:20px">单位</div><div class="lab" style="left:79.5px;top:122px;font-size:14px;line-height:20px">:</div><div class="lab" style="left:91px;top:122px;font-size:14px;line-height:20px">万辆</div>
<div class="lab" style="left:58px;top:149px;font-size:24px;line-height:27.8px;width:24px;white-space:normal">新能源乘用车</div>
<div class="lab" style="left:91px;top:158px;font-size:24px;line-height:37px;width:24px;white-space:normal;font-weight:bold">零售销量</div>
<div class="lab" style="left:49px;top:422px;font-size:14px;line-height:20px">单位</div><div class="lab" style="left:79.5px;top:422px;font-size:14px;line-height:20px">:</div><div class="lab" style="left:91px;top:422px;font-size:14px;line-height:20px">万辆</div>
<div class="lab" style="left:58px;top:449px;font-size:24px;line-height:27.8px;width:24px;white-space:normal">新能源乘用车</div>
<div class="lab" style="left:91px;top:459px;font-size:24px;line-height:37px;width:24px;white-space:normal;font-weight:bold">批发销量</div>
<div class="lab" style="left:135.5px;top:336.5px;font-size:14px;line-height:20px;font-weight:500">月同比</div>
<div class="lab" style="left:135.5px;top:365.8px;font-size:14px;line-height:20px;font-weight:500">渗透率</div>
<div class="lab" style="left:135.5px;top:630.8px;font-size:14px;line-height:20px;font-weight:500">月同比</div>
<div class="lab" style="left:135.5px;top:660.1px;font-size:14px;line-height:20px;font-weight:500">渗透率</div>
<svg width="1280" height="720" viewBox="0 0 1280 720">
<g transform="translate(0 0)"><path d="M110.8 337V352.2H128" stroke="#169ec0" stroke-width="1.4" fill="none"/><path d="M112.7 349.3L117.1 343.9L120 347L125.5 340" stroke="#169ec0" stroke-width="2.2" fill="none"/><path d="M122.3 338.4H127.2V343.3Z" fill="#169ec0"/>
<path d="M118.3 367.8A8.2 8.2 0 1 0 126.5 376H118.3Z" fill="#169ec0"/><path d="M120 366.2A8 8 0 0 1 128 374.2H120Z" fill="#169ec0"/></g>
<g transform="translate(0 294.3)"><path d="M110.8 337V352.2H128" stroke="#169ec0" stroke-width="1.4" fill="none"/><path d="M112.7 349.3L117.1 343.9L120 347L125.5 340" stroke="#169ec0" stroke-width="2.2" fill="none"/><path d="M122.3 338.4H127.2V343.3Z" fill="#169ec0"/>
<path d="M118.3 367.8A8.2 8.2 0 1 0 126.5 376H118.3Z" fill="#169ec0"/><path d="M120 366.2A8 8 0 0 1 128 374.2H120Z" fill="#169ec0"/></g>
</svg>
<div class="lab" style="left:20px;top:701px;font-size:10.5px;line-height:14px;color:#fff;font-weight:bold">总体市场</div>
<div class="lab" style="left:104px;top:701px;font-size:10.5px;line-height:14px;color:#fff;font-weight:bold">新能源市场</div>
<div class="lab" style="left:202px;top:701px;font-size:10.5px;line-height:14px;color:#fff;font-weight:bold">厂商排名</div>
<div class="lab" style="left:289px;top:701px;font-size:10.5px;line-height:14px;color:#fff;font-weight:bold">市场分析</div>
<div class="lab" style="left:1093px;top:686px;font-size:12px;line-height:16px;letter-spacing:2.4px;font-style:italic">月度信息发布</div>
<div class="lab" style="left:1260px;top:700px;font-size:14px;line-height:16px">8</div>
</body></html>
